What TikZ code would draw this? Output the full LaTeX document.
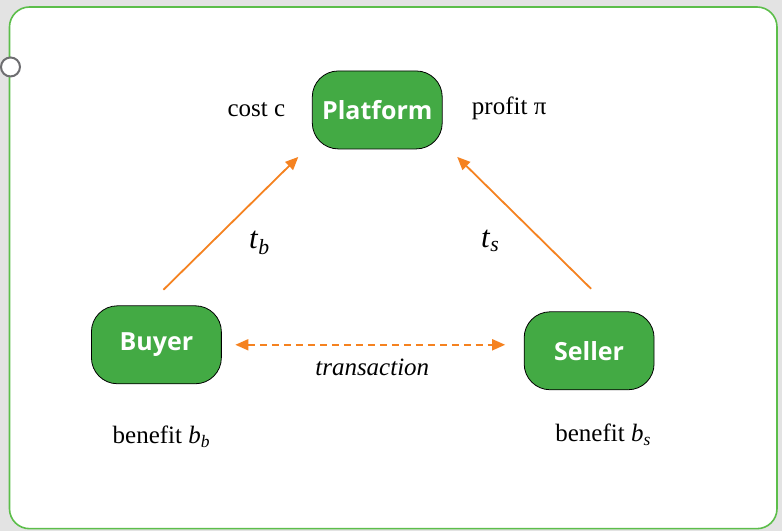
\documentclass[tikz,border=0pt]{standalone}
\usepackage{fontspec}
\setmainfont{Liberation Serif}
\newfontfamily\nodefont{Open Sans}
\usetikzlibrary{arrows.meta}

\definecolor{boxgreen}{RGB}{67,170,68}
\definecolor{framegreen}{RGB}{92,190,74}
\definecolor{flowor}{RGB}{245,130,32}
\definecolor{pingray}{RGB}{110,110,113}

\begin{document}
\begin{tikzpicture}[
  x=1pt, y=-1pt,
  agent/.style={draw=black, line width=0.8pt, fill=boxgreen, rounded corners=26pt, text=white,
    minimum width=130pt, minimum height=78pt, font=\nodefont\bfseries\fontsize{25}{29}\selectfont},
  flow/.style={-{Triangle[length=13pt, width=11pt]}, line width=1.8pt, draw=flowor},
  lbl/.style={font=\fontsize{25}{29}\selectfont, inner sep=1pt},
  tlbl/.style={font=\fontsize{31}{35}\selectfont, inner sep=1pt}
]
% canvas and frame
\fill[gray!22] (0,0) rectangle (782,531);
\draw[framegreen, line width=1.6pt, fill=white, rounded corners=20pt] (9,7) rectangle (777,529);
\draw[pingray, line width=2pt, fill=white] (10,67) circle (9.5pt);

% agents
\node[agent] (plat)   at (377,110) {Platform};
\node[agent] (buyer)  at (156,345) {Buyer};
\node[agent] (seller) at (589,351) {Seller};

\node[lbl] (cost)   at (256,110) {cost c};
\node[lbl] (profit) at (509,108) {profit π};
\node[lbl] (bb) at (161,437) {benefit \textit{b}\textsubscript{\textit{b}}};
\node[lbl] (bs) at (603,435) {benefit \textit{b}\textsubscript{\textit{s}}};

\coordinate (bfoot) at (163,290);
\coordinate (btip)  at (298,157);
\coordinate (sfoot) at (591,289);
\coordinate (stip)  at (457,157);
\coordinate (tl) at (235,345);
\coordinate (tr) at (505,345);

\draw[flow] (bfoot) -- (btip);
\draw[flow] (sfoot) -- (stip);
\draw[flow, dashed, dash pattern=on 7pt off 5pt, {Triangle[length=13pt, width=11pt]}-{Triangle[length=13pt, width=11pt]}] (tl) -- (tr);

\node[tlbl] (tb) at (259,243) {\textit{t}\textsubscript{\textit{b}}};
\node[tlbl] (ts) at (490,241) {\textit{t}\textsubscript{\textit{s}}};
\node[lbl] (trans) at (372,368) {\textit{transaction}};
\end{tikzpicture}
\end{document}
